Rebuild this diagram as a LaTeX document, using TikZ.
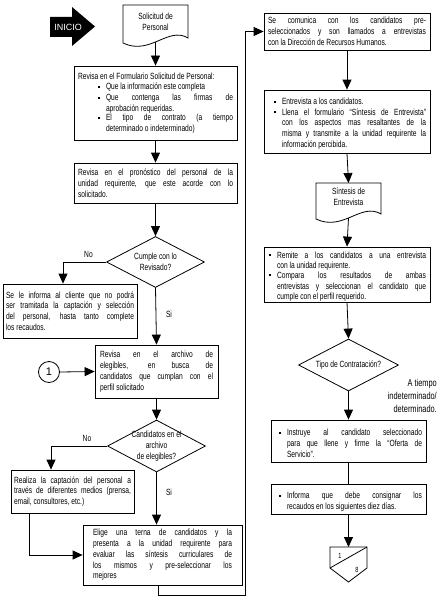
\documentclass[tikz,border=0pt]{standalone}
\usepackage{fontspec}
\setmainfont{Liberation Sans}[FakeStretch=0.74]
\newfontfamily\widefont{Liberation Sans}
\usetikzlibrary{arrows.meta,shapes.geometric}
\tolerance=10000
\hyphenpenalty=10000
\exhyphenpenalty=10000
\newcommand\sqb{\raisebox{1.8pt}{\rule{2pt}{2pt}}}
\newcommand\bitem[3]{\par\noindent\hspace*{#1}\makebox[\dimexpr#2-#1\relax][l]{\sqb}\parbox[t]{\dimexpr\hsize-#2\relax}{\tolerance=10000\hyphenpenalty=10000 #3}\par}
\begin{document}
\begin{tikzpicture}[x=1pt,y=-1pt,
  txt/.style={font=\fontsize{9}{10.8}\selectfont},
  box/.style={txt,draw,line width=0.8pt,rectangle,inner sep=0pt,align=justify},
  dia/.style={draw,diamond,line width=0.8pt,inner sep=0pt},
  lbl/.style={txt,inner sep=0pt,align=center},
  ln/.style={line width=0.8pt},
  arr/.style={ln,-{Triangle[width=9pt,length=10pt]}}]
\useasboundingbox (0,0) rectangle (439,602);

% INICIO
\fill (50,17) -- (72,17) -- (72,7) -- (95,26.5) -- (72,46) -- (72,37) -- (50,37) -- cycle;
\node[inner sep=0pt,text=white,font=\widefont\fontsize{9}{10}\selectfont] (ini) at (68,27) {INICIO};

% document 1
\draw[ln] (123,5) -- (188,5) -- (188,38) .. controls (168,26) and (150,56) .. (123,43) -- cycle;
\node[lbl] (doc1) at (155.5,21.5) {Solicitud de\\Personal};
\coordinate (doc1b) at (155.5,42);

\node[box,minimum width=163pt,minimum height=74pt,text width=155pt] (b1) at (155.5,103) {%
\noindent Revisa en el Formulario Solicitud de Personal:
\bitem{20pt}{28pt}{Que la información este completa}
\bitem{20pt}{28pt}{Que contenga las firmas de\linebreak aprobación requeridas.}
\bitem{20pt}{28pt}{El tipo de contrato (a tiempo\linebreak determinado o indeterminado)}};

\node[box,minimum width=163pt,minimum height=40pt,text width=155pt] (b2) at (155.5,183) {%
\noindent Revisa en el pronóstico del personal de la\linebreak unidad requirente, que este acorde con lo\linebreak solicitado.};

\node[dia,minimum width=98pt,minimum height=51pt] (dm1) at (155.5,262) {};
\node[lbl] (t1) at (dm1.center) {Cumple con lo\\Revisado?};

\node[box,minimum width=134pt,minimum height=54pt,text width=128pt] (b3) at (70,311) {%
\noindent Se le informa al cliente que no podrá\linebreak ser tramitada la captación y selección\linebreak del personal, hasta tanto complete\linebreak los recaudos.};

\node[box,minimum width=123pt,minimum height=53pt,text width=113pt] (b4) at (156.5,371.5) {%
\noindent Revisa en el archivo de\linebreak elegibles, en busca de\linebreak candidatos que cumplan con el\linebreak perfil solicitado};

\node[circle,draw,line width=0.8pt,minimum size=21pt,inner sep=0pt,font=\widefont\fontsize{11}{12}\selectfont] (c1) at (49,372) {1};

\node[dia,minimum width=98pt,minimum height=52pt] (dm2) at (156.5,446) {};
\node[lbl] (t2) at (dm2.center) {Candidatos en el\\archivo\\de elegibles?};

\node[box,minimum width=123pt,minimum height=43pt,text width=117pt] (b5) at (72.5,491.5) {%
\noindent Realiza la captación del personal a\linebreak través de diferentes medios (prensa,\linebreak email, consultores, etc.)};

\node[box,minimum width=159pt,minimum height=60pt,text width=139pt] (b6) at (162.5,555) {%
\noindent Elige una terna de candidatos y la\linebreak presenta a la unidad requirente para\linebreak evaluar las síntesis curriculares de\linebreak los mismos y pre-seleccionar los\linebreak mejores};

% right column
\node[box,minimum width=166pt,minimum height=37pt,text width=158pt] (b7) at (347,31.5) {%
\noindent Se comunica con los candidatos pre-\linebreak seleccionados y son llamados a entrevistas\linebreak con la Dirección de Recursos Humanos.};

\node[box,minimum width=166pt,minimum height=63pt,text width=158pt] (b8) at (347,121.5) {%
\bitem{6pt}{14pt}{Entrevista a los candidatos.}
\bitem{6pt}{14pt}{Llena el formulario “Síntesis de Entrevista”\linebreak con los aspectos mas resaltantes de la\linebreak misma y transmite a la unidad requirente la\linebreak información percibida.}};

\draw[ln] (316,183) -- (381,183) -- (381,214) .. controls (361,202) and (343,232) .. (316,219) -- cycle;
\node[lbl] (doc2) at (348.5,197) {Síntesis de\\Entrevista};
\coordinate (doc2t) at (348.5,183);
\coordinate (doc2b) at (348.5,218);

\node[box,minimum width=166pt,minimum height=55pt,text width=158pt] (b9) at (347,274.5) {%
\bitem{1pt}{9pt}{Remite a los candidatos a una entrevista\linebreak con la unidad requirente.}
\bitem{1pt}{9pt}{Compara los resultados de ambas\linebreak entrevistas y seleccionan el candidato que\linebreak cumple con el perfil requerido.}};

\node[dia,minimum width=100pt,minimum height=52pt] (dm3) at (348.5,365) {};
\node[lbl] (t3) at (dm3.center) {Tipo de Contratación?};
\node[lbl,align=right,anchor=east,font=\fontsize{10}{13}\selectfont] (ta) at (437,396) {A tiempo\\indeterminado/\\determinado.};

\node[box,minimum width=155pt,minimum height=42pt,text width=147pt] (b10) at (348.5,441) {%
\bitem{4pt}{12pt}{Instruye al candidato seleccionado\linebreak para que llene y firme la “Oferta de\linebreak Servicio”.}};

\node[box,minimum width=155pt,minimum height=30pt,text width=147pt] (b11) at (348.5,499.5) {%
\bitem{4pt}{12pt}{Informa que debe consignar los\linebreak recaudos en los siguientes diez días.}};

% off-page connector
\draw[ln] (330,547) -- (367,547) -- (367,568) -- (348.5,582) -- (330,568) -- cycle;
\draw[ln] (330,568) -- (367,547);
\coordinate (offt) at (348.5,547);
\node[inner sep=0pt,font=\fontsize{7.5}{8}\selectfont] (op1) at (340,556) {1};
\node[inner sep=0pt,font=\fontsize{7.5}{8}\selectfont] (op8) at (357,570) {8};

% connectors
\draw[arr] (doc1b) -- (b1.north);
\draw[arr] (b1.south) -- (b2.north);
\draw[arr] (b2.south) -- (dm1.north);
\draw[arr] (dm1.west) -| ([xshift=-7pt]b3.north);
\draw[arr] (dm1.south) -- (b4.north);
\draw[arr] (c1.east) -- (b4.west);
\draw[arr] (b4.south) -- (dm2.north);
\draw[arr] (dm2.west) -| ([xshift=-21.5pt]b5.north);
\draw[arr] (dm2.south) -- (b6.north -| dm2.south);
\draw[arr] ([xshift=-43.5pt]b5.south) |- (b6.west);
\coordinate (lp) at (245,595);
\draw[arr] ([xshift=-4.5pt]b6.south) |- (lp) |- (b7.west);
\draw[arr] (b7.south) -- (b8.north);
\draw[arr] (b8.south) -- (doc2t);
\draw[arr] (doc2b) -- (b9.north);
\draw[arr] (b9.south) -- (dm3.north);
\draw[arr] (dm3.south) -- (b10.north);
\draw[ln] (b10.south) -- (b11.north);
\draw[arr] (b11.south) -- (offt);

% labels
\node[lbl] (no1) at (88.5,254) {No};
\node[lbl] (si1) at (169,314) {Si};
\node[lbl] (no2) at (87,438) {No};
\node[lbl] (si2) at (169,492) {Si};
\end{tikzpicture}
\end{document}
